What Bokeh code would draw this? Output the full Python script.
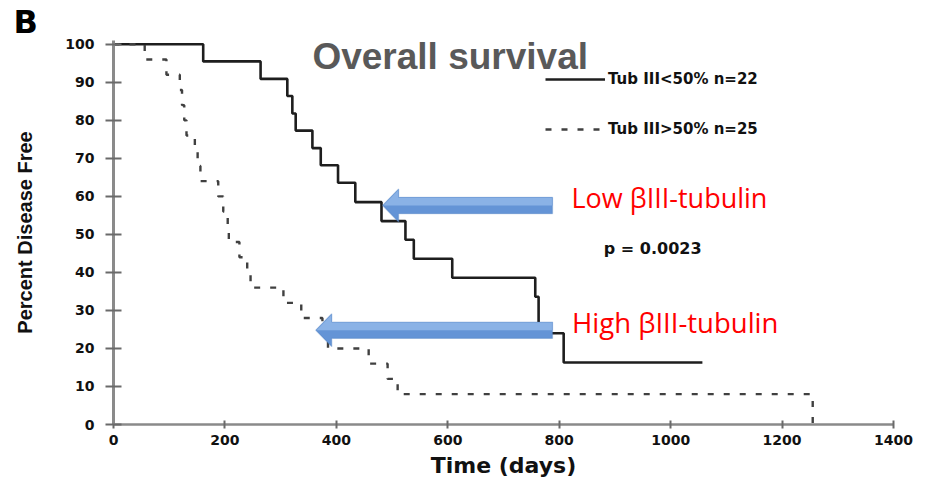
import math
from bokeh.plotting import figure
from bokeh.models import Range1d, FixedTicker, Label, Legend, LegendItem, PolyAnnotation
from bokeh.embed import file_html
from bokeh.resources import INLINE

# ---------------- data ----------------
low_days = [0, 161, 264, 312, 321, 327, 357, 372, 403, 434, 481, 524, 539, 608, 757, 763, 808, 1057]
low_pct = [100, 95.5, 90.9, 86.4, 81.8, 77.3, 72.7, 68.2, 63.6, 58.5, 53.5, 48.6, 43.6, 38.6, 33.6, 24.0, 16.3, 16.3]

high_days = [0, 56, 95, 119, 123, 127, 131, 146, 151, 156, 188, 197, 205, 207, 226, 240, 246,
             305, 337, 375, 385, 458, 492, 510, 1255]
high_pct = [100, 96, 92, 88, 84, 80, 76, 72, 68, 64, 60, 56, 52, 48, 44, 40, 36,
            32, 28, 24, 20, 16, 12, 8, 0]

series_labels = ["Tub III<50% n=22", "Tub III>50% n=25"]
x_ticks = [0, 200, 400, 600, 800, 1000, 1200, 1400]
y_ticks = [0, 10, 20, 30, 40, 50, 60, 70, 80, 90, 100]

panel_letter = "B"
title_text = "Overall survival"
x_label = "Time (days)"
y_label = "Percent Disease Free"
p_value_text = "p = 0.0023"
arrow_texts = ["Low \u03b2III-tubulin", "High \u03b2III-tubulin"]
arrow_tip_day = [483, 363]
arrow_tip_pct = [57.6, 24.8]
arrow_tail_day = 788

# ---------------- layout ----------------
W, H = 924, 486
ML, MR, MT, MB = 113, 31, 39, 62
X0, X1 = 0, 1400
Y0, Y1 = 0, 101
FW, FH = W - ML - MR, H - MT - MB
ppd = FW / (X1 - X0)   # px per day
ppp = FH / (Y1 - Y0)   # px per percent

p = figure(width=W, height=H, x_range=Range1d(X0, X1), y_range=Range1d(Y0, Y1),
           output_backend="svg", toolbar_location=None,
           min_border_left=ML, min_border_right=MR, min_border_top=MT, min_border_bottom=MB)
p.outline_line_color = None
p.xgrid.visible = False
p.ygrid.visible = False
p.background_fill_color = "white"
p.border_fill_color = "white"

# panel letter as the figure title, pushed into the left border
p.title.text = panel_letter
p.title.align = "left"
p.title.offset = -100
p.title.standoff = 0
p.title.text_font = "DejaVu Sans"
p.title.text_font_style = "bold"
p.title.text_font_size = "32px"
p.title.text_color = "#000000"

# axes
p.xaxis.ticker = FixedTicker(ticks=x_ticks)
p.yaxis.ticker = FixedTicker(ticks=y_ticks)
for ax in (p.xaxis, p.yaxis):
    ax.axis_line_color = "#8a8a8a"
    ax.major_tick_line_color = "#6a6a6a"
    ax.minor_tick_line_color = None
    ax.major_label_text_font = "DejaVu Sans"
    ax.major_label_text_font_style = "bold"
    ax.major_label_text_font_size = "14px"
    ax.major_label_text_color = "#111111"
p.yaxis.axis_line_width = 3
p.yaxis.major_tick_line_width = 2
p.yaxis.major_tick_in = 8
p.yaxis.major_tick_out = 8
p.yaxis.major_label_standoff = 11
p.yaxis.axis_label = y_label
p.yaxis.axis_label_text_font = "Liberation Sans"
p.yaxis.axis_label_text_font_style = "bold"
p.yaxis.axis_label_text_font_size = "20px"
p.yaxis.axis_label_text_color = "#111111"
p.yaxis.axis_label_standoff = 26
p.xaxis.axis_line_width = 2.5
p.xaxis.major_tick_line_width = 2
p.xaxis.major_tick_in = 4
p.xaxis.major_tick_out = 4
p.xaxis.major_label_standoff = 6
p.xaxis.axis_label = x_label
p.xaxis.axis_label_text_font = "DejaVu Sans"
p.xaxis.axis_label_text_font_style = "bold"
p.xaxis.axis_label_text_font_size = "22px"
p.xaxis.axis_label_text_color = "#111111"
p.xaxis.axis_label_standoff = 5

# survival curves
r_low = p.step(low_days, low_pct, mode="after", line_color="#1e1e1e", line_width=2.6)
r_high = p.step(high_days, high_pct, mode="after", line_color="#404040", line_width=2.4,
                line_dash="6 10")

legend = Legend(items=[LegendItem(label=series_labels[0], renderers=[r_low]),
                       LegendItem(label=series_labels[1], renderers=[r_high])],
                location=(432, 285))
legend.border_line_alpha = 0
legend.background_fill_alpha = 0
legend.padding = 0
legend.margin = 0
legend.spacing = 30
legend.glyph_width = 60
legend.glyph_height = 20
legend.label_standoff = 3
legend.label_text_font = "DejaVu Sans"
legend.label_text_font_style = "bold"
legend.label_text_font_size = "15px"
legend.label_text_color = "#111111"
p.add_layout(legend)

# block arrows
HEAD_LEN, HEAD_HALF, SHAFT_HALF = 16, 16.5, 8.2
for d, v in zip(arrow_tip_day, arrow_tip_pct):
    hx = d + HEAD_LEN / ppd
    ht, hb = v + HEAD_HALF / ppp, v - HEAD_HALF / ppp
    st, sb = v + SHAFT_HALF / ppp, v - SHAFT_HALF / ppp
    xs = [d, hx, hx, arrow_tail_day, arrow_tail_day, hx, hx]
    ys = [v, ht, st, st, sb, sb, hb]
    p.add_layout(PolyAnnotation(xs=xs, ys=ys, fill_color="#6494d6", fill_alpha=1,
                                line_color=None))
    xs2 = [d, hx, hx, arrow_tail_day, arrow_tail_day]
    ys2 = [v, ht, st, st, v]
    p.add_layout(PolyAnnotation(xs=xs2, ys=ys2, fill_color="#8ab2e6", fill_alpha=1,
                                line_color=None))
    p.add_layout(PolyAnnotation(xs=xs, ys=ys, fill_alpha=0, line_color="#4a7bbd",
                                line_width=1.3))

# texts
p.add_layout(Label(x=357, y=96.9, text=title_text, text_font="Liberation Sans",
                   text_font_style="bold", text_font_size="37px", text_color="#595959",
                   text_baseline="alphabetic"))
p.add_layout(Label(x=880, y=46.4, text=p_value_text, text_font="DejaVu Sans",
                   text_font_style="bold", text_font_size="16px", text_color="#111111",
                   text_baseline="middle"))
p.add_layout(Label(x=822, y=59.6, text=arrow_texts[0], text_font="Open Sans",
                   text_font_size="27px", text_color="#ff0000", text_baseline="alphabetic"))
p.add_layout(Label(x=823, y=26.8, text=arrow_texts[1], text_font="Open Sans",
                   text_font_size="27.5px", text_color="#ff0000", text_baseline="alphabetic"))

open("out.html", "w").write(file_html(p, INLINE))
